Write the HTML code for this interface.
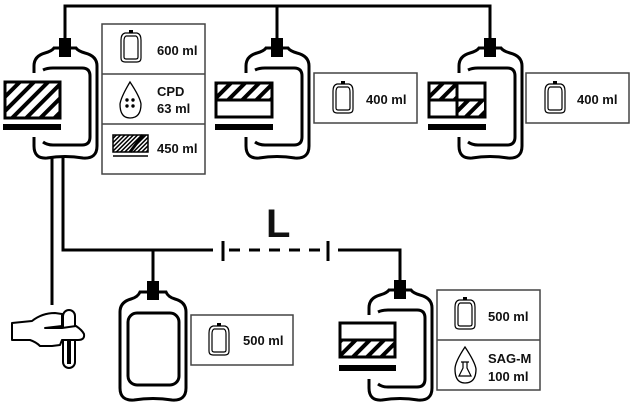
<!DOCTYPE html>
<html><head><meta charset="utf-8"><style>
html,body{margin:0;padding:0;background:#fff;}
svg{display:block;}
text{font-family:"Liberation Sans",Arial,sans-serif;font-weight:bold;font-size:13px;fill:#111;}
</style></head><body>
<svg width="633" height="402" viewBox="0 0 633 402" xmlns="http://www.w3.org/2000/svg">
<defs>
<pattern id="h" patternUnits="userSpaceOnUse" width="10" height="10" patternTransform="rotate(45)">
<rect width="10" height="10" fill="#fff"/><rect x="0" y="0" width="4" height="10" fill="#000"/>
</pattern>
<pattern id="hs" patternUnits="userSpaceOnUse" width="3" height="3" patternTransform="rotate(45)">
<rect width="3" height="3" fill="#fff"/><rect x="0" y="0" width="1.5" height="3" fill="#000"/>
</pattern>
<g id="cbag" fill="none" stroke="#000" stroke-width="3">
<path d="M-31,35 L-31,28 Q-31,18 -20,15 Q-13,13 -11,10 L11,10 Q13,13 20,15 Q32,18 32,28 L32,108 Q32,121 18,120 Q0,117 -18,120 Q-31,121 -31,108 L-31,99"/>
<path d="M-22,32 Q-18,30 -12,30 L17,30 Q25,30 25,38 L25,99 Q25,107 17,107 L-12,107 Q-18,107 -22,104"/>
<rect x="-6" y="0" width="12" height="19" fill="#000" stroke="none"/>
</g>
<g id="ico" fill="none" stroke="#000" stroke-width="1.2">
<path d="M-6,3 L6,3 Q10,4 10,10 L10,28 Q10,32 6,32 L-6,32 Q-10,32 -10,28 L-10,10 Q-10,4 -6,3 Z"/>
<path d="M-5,6 L5,6 Q7,7 7,11 L7,27 Q7,29 5,29 L-5,29 Q-7,29 -7,27 L-7,11 Q-7,7 -5,6 Z"/>
<rect x="-2" y="0" width="4" height="3" fill="#000" stroke="none"/>
</g>
</defs>

<!-- connectors -->
<g fill="none" stroke="#000" stroke-width="3">
<polyline points="65,38 65,6 490,6 490,38"/>
<line x1="277" y1="6" x2="277" y2="38"/>
<line x1="52" y1="157" x2="52" y2="305"/>
<polyline points="63,157 63,250 213,250"/>
<line x1="153" y1="250" x2="153" y2="281"/>
<line x1="223" y1="241" x2="223" y2="261"/>
<line x1="223" y1="250" x2="328" y2="250" stroke-dasharray="11,9" stroke-dashoffset="-6"/>
<line x1="328" y1="241" x2="328" y2="261"/>
<polyline points="338,250 400,250 400,281"/>
</g>
<text x="266" y="237" style="font-size:40px">L</text>

<!-- top bags -->
<use href="#cbag" x="65" y="38"/>
<rect x="5" y="82" width="55" height="36" fill="url(#h)" stroke="#000" stroke-width="3"/>
<rect x="3" y="124" width="58" height="6" fill="#000"/>

<use href="#cbag" x="277" y="38"/>
<rect x="216" y="83" width="56" height="34" fill="#fff" stroke="#000" stroke-width="3"/>
<rect x="217.5" y="84.5" width="53" height="14" fill="url(#h)"/>
<line x1="216" y1="100" x2="272" y2="100" stroke="#000" stroke-width="3"/>
<rect x="215" y="124" width="58" height="6" fill="#000"/>

<use href="#cbag" x="490" y="38"/>
<rect x="429" y="83" width="56" height="34" fill="#fff" stroke="#000" stroke-width="3"/>
<rect x="430.5" y="84.5" width="27" height="14" fill="url(#h)"/>
<rect x="458" y="101" width="26" height="14.5" fill="url(#h)"/>
<line x1="429" y1="100" x2="485" y2="100" stroke="#000" stroke-width="3"/>
<line x1="457" y1="83" x2="457" y2="117" stroke="#000" stroke-width="3"/>
<rect x="428" y="124" width="58" height="6" fill="#000"/>

<!-- bottom bags -->
<g fill="none" stroke="#000" stroke-width="3">
<path d="M120,312 Q120,302 131,299 Q138,297 140,292 L166,292 Q168,297 175,299 Q186,302 186,312 L186,388 Q186,401 172,400 Q153,397 134,400 Q120,401 120,388 Z"/>
<rect x="128" y="313" width="51" height="72" rx="9"/>
</g>
<rect x="147" y="281" width="12" height="19" fill="#000"/>

<use href="#cbag" x="400" y="280"/>
<rect x="340" y="323" width="55" height="34" fill="#fff" stroke="#000" stroke-width="3"/>
<rect x="341.5" y="341.5" width="52" height="14" fill="url(#h)"/>
<line x1="340" y1="340" x2="395" y2="340" stroke="#000" stroke-width="3"/>
<rect x="339" y="365" width="57" height="6" fill="#000"/>

<!-- hand + tube -->
<rect x="63" y="310" width="12" height="58" rx="6" fill="#fff" stroke="#000" stroke-width="2"/>
<rect x="67" y="340" width="4" height="24" fill="#000"/>
<g fill="#fff" stroke="#000" stroke-width="2" stroke-linejoin="round">
<path d="M12,323 L32,321 Q42,313 55,313 L62,314 L62,326 L45,328 L62,328 L76,326 Q82,330 84,334 Q85,340 78,340 L62,340 L60,345 L52,346 L40,346 Q36,342 30,340 L12,340 Z"/>
</g>
<path d="M45,328 L56,327" stroke="#000" stroke-width="1.5"/>

<!-- legend boxes -->
<g fill="none" stroke="#444" stroke-width="1.5">
<rect x="102" y="24" width="103" height="150"/>
<line x1="102" y1="74" x2="205" y2="74"/><line x1="102" y1="124" x2="205" y2="124"/>
<rect x="314" y="73" width="103" height="50"/>
<rect x="526" y="73" width="103" height="50"/>
<rect x="191" y="315" width="102" height="50"/>
<rect x="437" y="290" width="103" height="100"/>
<line x1="437" y1="340" x2="540" y2="340"/>
</g>
<use href="#ico" x="131" y="30"/>
<use href="#ico" x="343" y="81"/>
<use href="#ico" x="555" y="81"/>
<use href="#ico" x="219" y="323"/>
<use href="#ico" x="465" y="297"/>
<!-- drop -->
<path d="M130,82 Q121,97 120,104 Q120,118 130,118 Q141,118 141,104 Q140,97 130,82 Z" fill="none" stroke="#000" stroke-width="1.3"/>
<g fill="#000"><circle cx="127" cy="100" r="1.7"/><circle cx="133" cy="100" r="1.7"/><circle cx="127" cy="106" r="1.7"/><circle cx="133" cy="106" r="1.7"/></g>
<!-- small hatch -->
<rect x="113" y="135" width="35" height="17" fill="url(#hs)" stroke="#000" stroke-width="1.5"/>
<path d="M130,152 L143,135" stroke="#000" stroke-width="3"/>
<line x1="113" y1="156" x2="148" y2="156" stroke="#000" stroke-width="1.5"/>
<!-- SAG-M drop w/ flask -->
<path d="M465,347 Q455,362 455,369 Q455,383 465,383 Q476,383 476,369 Q475,362 465,347 Z" fill="none" stroke="#000" stroke-width="1.3"/>
<path d="M463,362 L463,368 L459,376 L471,376 L467,368 L467,362 M461,362 L469,362" fill="none" stroke="#000" stroke-width="1.2"/>

<text x="157" y="55">600 ml</text>
<text x="157" y="96">CPD</text>
<text x="157" y="113">63 ml</text>
<text x="157" y="153">450 ml</text>
<text x="366" y="104">400 ml</text>
<text x="577" y="104">400 ml</text>
<text x="243" y="345">500 ml</text>
<text x="488" y="321">500 ml</text>
<text x="488" y="363">SAG-M</text>
<text x="488" y="381">100 ml</text>
</svg>
</body></html>
